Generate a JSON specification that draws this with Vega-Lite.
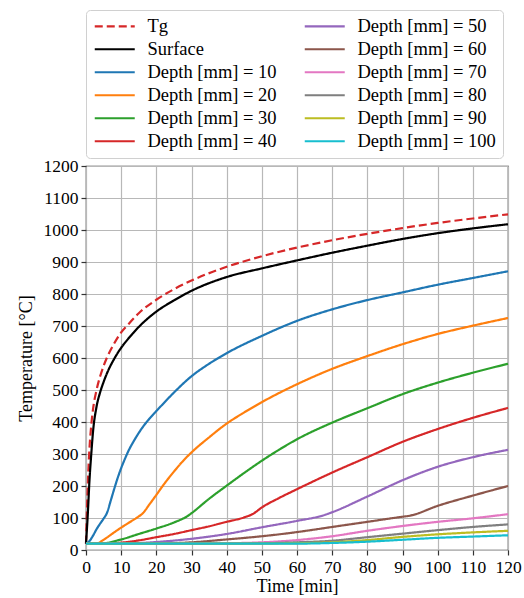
{
  "$schema": "https://vega.github.io/schema/vega-lite/v6.json",
  "width": 422,
  "height": 384,
  "autosize": {"type": "none"},
  "padding": {"left": 86, "top": 166, "right": 16, "bottom": 48},
  "background": "white",
  "config": {
    "view": {"stroke": "#333333", "strokeWidth": 1.2},
    "font": "Liberation Serif, Times New Roman, serif",
    "axis": {
      "labelFont": "Liberation Serif, Times New Roman, serif", "labelFontSize": 17.5, "labelColor": "black",
      "titleFont": "Liberation Serif, Times New Roman, serif", "titleFontSize": 18, "titleFontWeight": "normal", "titleColor": "black",
      "gridColor": "#b8b8b8", "gridWidth": 1.2, "tickColor": "#333333", "tickSize": 5, "tickWidth": 1.2,
      "domain": false, "labelPadding": 3, "labelOverlap": false, "labelFlush": false, "labelBound": false, "format": "d"
    },
    "legend": {
      "labelFont": "Liberation Serif, Times New Roman, serif", "labelFontSize": 18.5, "labelColor": "black", "labelLimit": 0
    }
  },
  "data": {"values": [
    {"s":"Tg","t":0,"v":20},{"s":"Tg","t":0.5,"v":200},{"s":"Tg","t":1,"v":320},{"s":"Tg","t":1.5,"v":390},{"s":"Tg","t":2,"v":440},{"s":"Tg","t":3,"v":500},{"s":"Tg","t":4,"v":542},{"s":"Tg","t":5,"v":575},{"s":"Tg","t":6,"v":602},{"s":"Tg","t":8,"v":645},{"s":"Tg","t":10,"v":680},{"s":"Tg","t":12,"v":705},{"s":"Tg","t":15,"v":740},{"s":"Tg","t":20,"v":782},{"s":"Tg","t":25,"v":815},{"s":"Tg","t":30,"v":842},{"s":"Tg","t":40,"v":885},{"s":"Tg","t":50,"v":918},{"s":"Tg","t":60,"v":945},{"s":"Tg","t":70,"v":968},{"s":"Tg","t":80,"v":988},{"s":"Tg","t":90,"v":1006},{"s":"Tg","t":100,"v":1022},{"s":"Tg","t":110,"v":1036},{"s":"Tg","t":120,"v":1049},
    {"s":"Surface","t":0,"v":20},{"s":"Surface","t":0.5,"v":110},{"s":"Surface","t":1,"v":220},{"s":"Surface","t":1.5,"v":300},{"s":"Surface","t":2,"v":370},{"s":"Surface","t":3,"v":448},{"s":"Surface","t":4,"v":492},{"s":"Surface","t":5,"v":525},{"s":"Surface","t":6,"v":553},{"s":"Surface","t":8,"v":597},{"s":"Surface","t":10,"v":632},{"s":"Surface","t":12,"v":660},{"s":"Surface","t":15,"v":697},{"s":"Surface","t":20,"v":745},{"s":"Surface","t":25,"v":780},{"s":"Surface","t":30,"v":810},{"s":"Surface","t":40,"v":853},{"s":"Surface","t":50,"v":880},{"s":"Surface","t":60,"v":905},{"s":"Surface","t":70,"v":929},{"s":"Surface","t":80,"v":951},{"s":"Surface","t":90,"v":972},{"s":"Surface","t":100,"v":990},{"s":"Surface","t":110,"v":1005},{"s":"Surface","t":120,"v":1018},
    {"s":"Depth [mm] = 10","t":0,"v":20},{"s":"Depth [mm] = 10","t":1,"v":28},{"s":"Depth [mm] = 10","t":2,"v":45},{"s":"Depth [mm] = 10","t":3,"v":65},{"s":"Depth [mm] = 10","t":4,"v":82},{"s":"Depth [mm] = 10","t":5,"v":98},{"s":"Depth [mm] = 10","t":6,"v":117},{"s":"Depth [mm] = 10","t":7,"v":153},{"s":"Depth [mm] = 10","t":8,"v":190},{"s":"Depth [mm] = 10","t":9,"v":225},{"s":"Depth [mm] = 10","t":10,"v":256},{"s":"Depth [mm] = 10","t":11,"v":283},{"s":"Depth [mm] = 10","t":12,"v":308},{"s":"Depth [mm] = 10","t":14,"v":348},{"s":"Depth [mm] = 10","t":16,"v":382},{"s":"Depth [mm] = 10","t":18,"v":410},{"s":"Depth [mm] = 10","t":20,"v":434},{"s":"Depth [mm] = 10","t":25,"v":492},{"s":"Depth [mm] = 10","t":30,"v":543},{"s":"Depth [mm] = 10","t":35,"v":582},{"s":"Depth [mm] = 10","t":40,"v":615},{"s":"Depth [mm] = 10","t":50,"v":669},{"s":"Depth [mm] = 10","t":60,"v":716},{"s":"Depth [mm] = 10","t":70,"v":752},{"s":"Depth [mm] = 10","t":80,"v":781},{"s":"Depth [mm] = 10","t":90,"v":805},{"s":"Depth [mm] = 10","t":100,"v":829},{"s":"Depth [mm] = 10","t":110,"v":850},{"s":"Depth [mm] = 10","t":120,"v":871},
    {"s":"Depth [mm] = 20","t":0,"v":20},{"s":"Depth [mm] = 20","t":3,"v":20},{"s":"Depth [mm] = 20","t":5,"v":32},{"s":"Depth [mm] = 20","t":8,"v":55},{"s":"Depth [mm] = 20","t":10,"v":70},{"s":"Depth [mm] = 20","t":12,"v":84},{"s":"Depth [mm] = 20","t":15,"v":105},{"s":"Depth [mm] = 20","t":16,"v":113},{"s":"Depth [mm] = 20","t":18,"v":142},{"s":"Depth [mm] = 20","t":20,"v":172},{"s":"Depth [mm] = 20","t":22,"v":203},{"s":"Depth [mm] = 20","t":25,"v":245},{"s":"Depth [mm] = 20","t":28,"v":283},{"s":"Depth [mm] = 20","t":30,"v":305},{"s":"Depth [mm] = 20","t":35,"v":352},{"s":"Depth [mm] = 20","t":40,"v":395},{"s":"Depth [mm] = 20","t":45,"v":430},{"s":"Depth [mm] = 20","t":50,"v":462},{"s":"Depth [mm] = 20","t":60,"v":518},{"s":"Depth [mm] = 20","t":70,"v":566},{"s":"Depth [mm] = 20","t":80,"v":606},{"s":"Depth [mm] = 20","t":90,"v":643},{"s":"Depth [mm] = 20","t":100,"v":675},{"s":"Depth [mm] = 20","t":110,"v":701},{"s":"Depth [mm] = 20","t":120,"v":725},
    {"s":"Depth [mm] = 30","t":0,"v":20},{"s":"Depth [mm] = 30","t":4,"v":20},{"s":"Depth [mm] = 30","t":10,"v":33},{"s":"Depth [mm] = 30","t":15,"v":50},{"s":"Depth [mm] = 30","t":20,"v":67},{"s":"Depth [mm] = 30","t":25,"v":86},{"s":"Depth [mm] = 30","t":29,"v":107},{"s":"Depth [mm] = 30","t":30,"v":115},{"s":"Depth [mm] = 30","t":35,"v":160},{"s":"Depth [mm] = 30","t":40,"v":201},{"s":"Depth [mm] = 30","t":45,"v":241},{"s":"Depth [mm] = 30","t":50,"v":279},{"s":"Depth [mm] = 30","t":55,"v":314},{"s":"Depth [mm] = 30","t":60,"v":346},{"s":"Depth [mm] = 30","t":70,"v":398},{"s":"Depth [mm] = 30","t":80,"v":443},{"s":"Depth [mm] = 30","t":90,"v":487},{"s":"Depth [mm] = 30","t":100,"v":523},{"s":"Depth [mm] = 30","t":110,"v":554},{"s":"Depth [mm] = 30","t":120,"v":582},
    {"s":"Depth [mm] = 40","t":0,"v":20},{"s":"Depth [mm] = 40","t":6,"v":20},{"s":"Depth [mm] = 40","t":10,"v":23},{"s":"Depth [mm] = 40","t":15,"v":30},{"s":"Depth [mm] = 40","t":20,"v":40},{"s":"Depth [mm] = 40","t":25,"v":50},{"s":"Depth [mm] = 40","t":30,"v":62},{"s":"Depth [mm] = 40","t":35,"v":74},{"s":"Depth [mm] = 40","t":40,"v":88},{"s":"Depth [mm] = 40","t":45,"v":102},{"s":"Depth [mm] = 40","t":47.5,"v":113},{"s":"Depth [mm] = 40","t":50,"v":133},{"s":"Depth [mm] = 40","t":55,"v":163},{"s":"Depth [mm] = 40","t":60,"v":190},{"s":"Depth [mm] = 40","t":70,"v":242},{"s":"Depth [mm] = 40","t":80,"v":290},{"s":"Depth [mm] = 40","t":90,"v":338},{"s":"Depth [mm] = 40","t":100,"v":378},{"s":"Depth [mm] = 40","t":110,"v":413},{"s":"Depth [mm] = 40","t":120,"v":444},
    {"s":"Depth [mm] = 50","t":0,"v":20},{"s":"Depth [mm] = 50","t":10,"v":20},{"s":"Depth [mm] = 50","t":20,"v":25},{"s":"Depth [mm] = 50","t":30,"v":35},{"s":"Depth [mm] = 50","t":40,"v":50},{"s":"Depth [mm] = 50","t":50,"v":71},{"s":"Depth [mm] = 50","t":60,"v":91},{"s":"Depth [mm] = 50","t":68,"v":110},{"s":"Depth [mm] = 50","t":70,"v":118},{"s":"Depth [mm] = 50","t":80,"v":167},{"s":"Depth [mm] = 50","t":90,"v":218},{"s":"Depth [mm] = 50","t":100,"v":260},{"s":"Depth [mm] = 50","t":110,"v":290},{"s":"Depth [mm] = 50","t":120,"v":313},
    {"s":"Depth [mm] = 60","t":0,"v":20},{"s":"Depth [mm] = 60","t":20,"v":20},{"s":"Depth [mm] = 60","t":30,"v":24},{"s":"Depth [mm] = 60","t":40,"v":33},{"s":"Depth [mm] = 60","t":50,"v":43},{"s":"Depth [mm] = 60","t":60,"v":56},{"s":"Depth [mm] = 60","t":70,"v":72},{"s":"Depth [mm] = 60","t":80,"v":88},{"s":"Depth [mm] = 60","t":90,"v":104},{"s":"Depth [mm] = 60","t":92,"v":107},{"s":"Depth [mm] = 60","t":100,"v":138},{"s":"Depth [mm] = 60","t":110,"v":170},{"s":"Depth [mm] = 60","t":120,"v":200},
    {"s":"Depth [mm] = 70","t":0,"v":20},{"s":"Depth [mm] = 70","t":30,"v":20},{"s":"Depth [mm] = 70","t":40,"v":21},{"s":"Depth [mm] = 70","t":50,"v":24},{"s":"Depth [mm] = 70","t":60,"v":31},{"s":"Depth [mm] = 70","t":70,"v":43},{"s":"Depth [mm] = 70","t":80,"v":60},{"s":"Depth [mm] = 70","t":90,"v":75},{"s":"Depth [mm] = 70","t":100,"v":88},{"s":"Depth [mm] = 70","t":110,"v":99},{"s":"Depth [mm] = 70","t":120,"v":112},
    {"s":"Depth [mm] = 80","t":0,"v":20},{"s":"Depth [mm] = 80","t":40,"v":20},{"s":"Depth [mm] = 80","t":50,"v":21},{"s":"Depth [mm] = 80","t":60,"v":24},{"s":"Depth [mm] = 80","t":70,"v":29},{"s":"Depth [mm] = 80","t":80,"v":40},{"s":"Depth [mm] = 80","t":90,"v":51},{"s":"Depth [mm] = 80","t":100,"v":62},{"s":"Depth [mm] = 80","t":110,"v":72},{"s":"Depth [mm] = 80","t":120,"v":80},
    {"s":"Depth [mm] = 90","t":0,"v":20},{"s":"Depth [mm] = 90","t":50,"v":20},{"s":"Depth [mm] = 90","t":60,"v":21},{"s":"Depth [mm] = 90","t":70,"v":24},{"s":"Depth [mm] = 90","t":80,"v":31},{"s":"Depth [mm] = 90","t":90,"v":41},{"s":"Depth [mm] = 90","t":100,"v":49},{"s":"Depth [mm] = 90","t":110,"v":55},{"s":"Depth [mm] = 90","t":120,"v":60},
    {"s":"Depth [mm] = 100","t":0,"v":20},{"s":"Depth [mm] = 100","t":60,"v":20},{"s":"Depth [mm] = 100","t":70,"v":22},{"s":"Depth [mm] = 100","t":80,"v":26},{"s":"Depth [mm] = 100","t":90,"v":32},{"s":"Depth [mm] = 100","t":100,"v":38},{"s":"Depth [mm] = 100","t":110,"v":42},{"s":"Depth [mm] = 100","t":120,"v":46}
  ]},
  "mark": {"type": "line", "strokeWidth": 2.2, "interpolate": "monotone"},
  "encoding": {
    "x": {"field": "t", "type": "quantitative", "title": "Time [min]",
      "scale": {"domain": [0, 120], "nice": false, "zero": false},
      "axis": {"values": [0,10,20,30,40,50,60,70,80,90,100,110,120], "titlePadding": 2}},
    "y": {"field": "v", "type": "quantitative", "title": "Temperature [°C]",
      "scale": {"domain": [0, 1200], "nice": false},
      "axis": {"values": [0,100,200,300,400,500,600,700,800,900,1000,1100,1200], "titlePadding": 8}},
    "color": {"field": "s", "type": "nominal", "title": null,
      "scale": {
        "domain": ["Tg","Surface","Depth [mm] = 10","Depth [mm] = 20","Depth [mm] = 30","Depth [mm] = 40","Depth [mm] = 50","Depth [mm] = 60","Depth [mm] = 70","Depth [mm] = 80","Depth [mm] = 90","Depth [mm] = 100"],
        "range": ["#d62728","#000000","#1f77b4","#ff7f0e","#2ca02c","#d62728","#9467bd","#8c564b","#e377c2","#7f7f7f","#bcbd22","#17becf"]
      },
      "legend": {
        "orient": "none", "legendX": 0, "legendY": -156, "columns": 2,
        "columnPadding": 23, "rowPadding": 4, "padding": 7,
        "symbolType": "M-3,0H13", "symbolSize": 25, "symbolStrokeWidth": 2.2,
        "labelOffset": 36, "fillColor": "white", "strokeColor": "#d0d0d0", "cornerRadius": 4
      }
    },
    "strokeDash": {"field": "s", "type": "nominal", "title": null,
      "scale": {
        "domain": ["Tg","Surface","Depth [mm] = 10","Depth [mm] = 20","Depth [mm] = 30","Depth [mm] = 40","Depth [mm] = 50","Depth [mm] = 60","Depth [mm] = 70","Depth [mm] = 80","Depth [mm] = 90","Depth [mm] = 100"],
        "range": [[8,4],[1,0],[1,0],[1,0],[1,0],[1,0],[1,0],[1,0],[1,0],[1,0],[1,0],[1,0]]
      }
    }
  }
}
